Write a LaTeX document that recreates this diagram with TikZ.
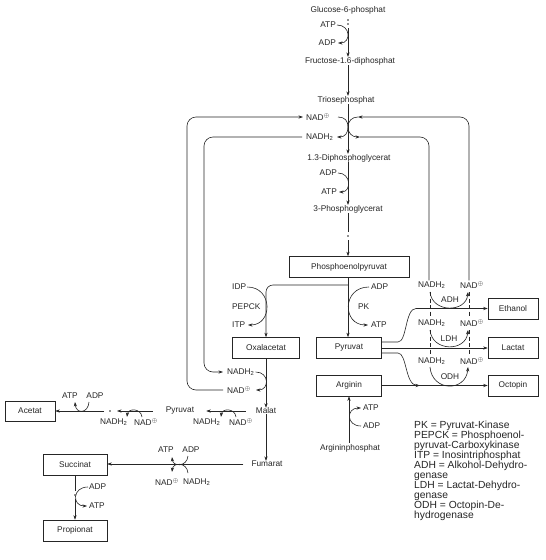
\documentclass[tikz,border=0pt]{standalone}
\usepackage{fontspec}
\setmainfont{Liberation Sans}
\usetikzlibrary{arrows.meta}
\definecolor{ink}{HTML}{262626}
\newcommand{\NADp}{NAD\textsuperscript{$\oplus$}}
\newcommand{\NADH}{NADH\textsubscript{2}}
\begin{document}
\begin{tikzpicture}[x=1pt,y=-1pt,
  lbl/.style={font=\fontsize{8.3}{9}\selectfont, inner sep=0pt, text=ink},
  box/.style={draw=ink, line width=0.6pt, font=\fontsize{8.3}{9}\selectfont, text=ink, inner sep=0pt, minimum height=21pt, minimum width=65pt},
  ln/.style={draw=ink, line width=0.6pt},
  arr/.style={ln, -{Stealth[length=4.5pt,width=3.2pt]}},
  dsh/.style={ln, dash pattern=on 4pt off 2.5pt},
  legend/.style={font=\fontsize{10.3}{10}\selectfont, text=ink, inner sep=0pt, anchor=base west}]
\useasboundingbox (0,0) rectangle (546,560);
\fill[white] (0,0) rectangle (546,560);
\coordinate (mx) at (348,0);
% ---------- labels on the main axis
\node[lbl] (glc) at (348,10) {Glucose-6-phosphat};
\node[lbl,anchor=east] (atp1) at (336,25) {ATP};
\node[lbl,anchor=east] (adp1) at (336,43) {ADP};
\node[lbl] (fru) at (350,61) {Fructose-1.6-diphosphat};
\node[lbl] (tri) at (346,100) {Triosephosphat};
\node[lbl,anchor=west] (nad1) at (306,117) {\NADp};
\node[lbl,anchor=west] (nadh1) at (306,137) {\NADH};
\node[lbl] (dpg) at (349,158) {1.3-Diphosphoglycerat};
\node[lbl,anchor=east] (adp2) at (337,173) {ADP};
\node[lbl,anchor=east] (atp2) at (337,192) {ATP};
\node[lbl] (pg3) at (348,209) {3-Phosphoglycerat};
\node[box, minimum width=120pt] (pep) at (349,267) {Phosphoenolpyruvat};
\node[lbl,anchor=west] (idp) at (232,287) {IDP};
\node[lbl,anchor=west] (pepck) at (232,307) {PEPCK};
\node[lbl,anchor=west] (itp) at (232,325) {ITP};
\node[lbl,anchor=west] (adp3) at (371,287) {ADP};
\node[lbl,anchor=west] (pk) at (358,307) {PK};
\node[lbl,anchor=west] (atp3) at (371,325) {ATP};
\node[box, minimum width=67pt] (oxa) at (266,348) {Oxalacetat};
\node[box] (pyr) at (349,348) {Pyruvat};
\node[box] (arg) at (349,385.5) {Arginin};
\node[lbl,anchor=west] (nadh2) at (227,372) {\NADH};
\node[lbl,anchor=west] (nad2) at (227,390) {\NADp};
\node[lbl] (mal) at (266,411) {Malat};
\node[lbl] (pyrl) at (180,411) {Pyruvat};
\node[lbl,anchor=west] (nadh3) at (193,422) {\NADH};
\node[lbl,anchor=west] (nad3) at (229,422) {\NADp};
\node[box, minimum width=50pt, minimum height=20pt] (ace) at (30,411) {Acetat};
\node[lbl] (atp4) at (70,396) {ATP};
\node[lbl] (adp4) at (95,396) {ADP};
\node[lbl,anchor=west] (nadh4) at (100,422) {\NADH};
\node[lbl,anchor=west] (nad4) at (134,422) {\NADp};
\node[box, minimum width=64pt] (suc) at (75,465) {Succinat};
\node[box, minimum width=64pt] (pro) at (75,530.5) {Propionat};
\node[lbl] (fum) at (267,464) {Fumarat};
\node[lbl] (atp5) at (166,450) {ATP};
\node[lbl] (adp5) at (191,450) {ADP};
\node[lbl,anchor=west] (nad5) at (155,482) {\NADp};
\node[lbl,anchor=west] (nadh5) at (183,482) {\NADH};
\node[lbl,anchor=west] (adp6) at (89,487) {ADP};
\node[lbl,anchor=west] (atp6) at (89,506) {ATP};
\node[lbl] (argp) at (350,448) {Argininphosphat};
\node[lbl,anchor=west] (atp7) at (363,408) {ATP};
\node[lbl,anchor=west] (adp7) at (363,426) {ADP};
% ---------- fermentation products
\node[lbl,anchor=west] (nadhA) at (418,285) {\NADH};
\node[lbl,anchor=west] (nadA) at (460,285) {\NADp};
\node[lbl] (adh) at (450,300) {ADH};
\node[lbl,anchor=west] (nadhL) at (418,323) {\NADH};
\node[lbl,anchor=west] (nadL) at (460,323) {\NADp};
\node[lbl] (ldh) at (449,339) {LDH};
\node[lbl,anchor=west] (nadhO) at (418,361) {\NADH};
\node[lbl,anchor=west] (nadO) at (460,361) {\NADp};
\node[lbl] (odh) at (450,377) {ODH};
\node[box, minimum width=50pt] (eth) at (513,308.5) {Ethanol};
\node[box, minimum width=50pt] (lac) at (513,347.5) {Lactat};
\node[box, minimum width=50pt] (oct) at (513,385.5) {Octopin};
% ---------- legend
\node[legend] (leg1) at (414,428.5) {PK = Pyruvat-Kinase};
\node[legend] (leg2) at (414,438.5) {PEPCK = Phosphoenol-};
\node[legend] (leg3) at (414,448.5) {pyruvat-Carboxykinase};
\node[legend] (leg4) at (414,458.5) {ITP = Inosintriphosphat};
\node[legend] (leg5) at (414,468.5) {ADH = Alkohol-Dehydro-};
\node[legend] (leg6) at (414,478.5) {genase};
\node[legend] (leg7) at (414,488.5) {LDH = Lactat-Dehydro-};
\node[legend] (leg8) at (414,498.5) {genase};
\node[legend] (leg9) at (414,508.5) {ODH = Octopin-De-};
\node[legend] (leg10) at (414,518.5) {hydrogenase};
% ---------- coordinates
\coordinate (g1) at (348,28);
\coordinate (p1) at (348,232);
\coordinate (p2) at (348,240);
\coordinate (br) at (348,285);
\coordinate (cx) at (348,127);
\coordinate (tl1) at (338,117);
\coordinate (tl2) at (337,137);
\coordinate (tR1) at (358,117);
\coordinate (tR2) at (360,137);
\coordinate (xLo) at (187,0);
\coordinate (xLi) at (204,0);
\coordinate (xRo) at (469,0);
\coordinate (xRi) at (429,0);
\coordinate (dA) at (110,411);
\coordinate (dA2) at (104,411);
\coordinate (s1) at (75,491);
\coordinate (s2) at (75,499);
\coordinate (e1) at (398,342);
\coordinate (e2) at (416,308.5);
\coordinate (o1) at (398,353);
\coordinate (o2) at (420,385.5);
% ---------- main axis
\fill[ink] (348,20) circle (0.8);
\fill[ink] (348,24) circle (0.8);
\draw[arr] (g1) -- (fru.north -| mx);
\draw[arr] (fru.south -| mx) -- (tri.north -| mx);
\draw[arr] (tri.south -| mx) -- (dpg.north -| mx);
\draw[arr] (dpg.south -| mx) -- (pg3.north -| mx);
\draw[ln] (pg3.south -| mx) -- (p1);
\fill[ink] (348,236) circle (0.8);
\draw[arr] (p2) -- (pep.north -| mx);
\draw[arr] (pep.south -| mx) -- (pyr.north -| mx);
\draw[arr, rounded corners=7pt] (br) -| (oxa.north);
\draw[arr] (oxa.south) -- (mal.north);
\draw[arr] (mal.south) -- (mal.south |- fum.north);
\draw[arr, shorten <=10pt, shorten >=12pt] (mal.west) -- (pyrl.east);
\draw[arr, shorten <=13pt] (pyrl.west) -- (117,411);
\fill[ink] (dA) circle (0.8);
\draw[arr] (dA2) -- (ace.east);
\draw[arr, shorten <=8pt] (fum.west) -- (fum.west -| suc.east);
\draw[ln] (suc.south) -- (s1);
\fill[ink] (75,495) circle (0.8);
\draw[arr] (s2) -- (pro.north);
\draw[arr, shorten <=1pt] (argp.north -| arg.south) -- (arg.south);
% ---------- side reactions (cofactor arcs)
\draw[arr] (atp1.east) ++(1,0) .. controls (351,25) and (351,43) .. (338,43);
\draw[arr] (tl1) .. controls (345,117) and (348,121) .. (cx) .. controls (348,133) and (345,137) .. (tl2);
\draw[arr] (tR1) .. controls (352,117) and (348,121) .. (cx) .. controls (348,133) and (352,137) .. (tR2);
\draw[arr] (adp2.east) ++(1,0) .. controls (351.5,173) and (351.5,192) .. (339,192);
\draw[arr] (idp.east) ++(1,0) .. controls (273,287) and (273,325) .. (248,325);
\draw[arr] (adp3.west) ++(-2,0) .. controls (342,287) and (342,325) .. (368,325);
\draw[arr] (nadh2.east) ++(1,0) .. controls (269.5,372) and (269.5,390) .. (256,390);
\draw[arr] (236,417) .. controls (235,408) and (222,408) .. (221,417);
\draw[arr] (142,417) .. controls (141,408) and (128,408) .. (127,417);
\draw[arr] (89,402) .. controls (88,414) and (76,414) .. (75,402);
\draw[arr] (188,456) .. controls (187,467) and (173,467) .. (172,457);
\draw[arr] (188,473) .. controls (187,462) and (173,462) .. (172,472);
\draw[arr] (88,487) .. controls (72,487) and (72,506) .. (87,506);
\draw[arr] (361,426) .. controls (346,426) and (346,408) .. (361,408);
% ---------- NAD loops
\draw[arr, rounded corners=9pt, shorten <=4pt, shorten >=3pt] (nad2.west) -- (nad2.west -| xLo) -- (xLo |- nad1.west) -- (nad1.west);
\draw[arr, rounded corners=9pt, shorten <=4pt, shorten >=4pt] (nadh1.west) -- (nadh1.west -| xLi) -- (xLi |- nadh2.west) -- (nadh2.west);
\draw[arr, rounded corners=9pt, shorten <=1pt] (nadA.north -| xRo) -- (xRo |- tR1) -- (tR1);
\draw[ln, rounded corners=9pt, shorten >=1pt] (tR2) -- (tR2 -| xRi) -- (xRi |- nadhA.north);
% ---------- products
\draw[arr] ([yshift=6pt]pyr.east) -- (e1) .. controls (407,342) and (405,308.5) .. (e2) -- (e2 -| eth.west);
\draw[arr] (pyr.east) -- (pyr.east -| lac.west);
\draw[arr] ([yshift=-5pt]pyr.east) -- (o1) .. controls (407,353) and (405,385.5) .. (o2);
\draw[arr] (arg.east) -- (arg.east -| oct.west);
\draw[dsh] (430,292) -- (430,317);
\draw[dsh] (430,330) -- (430,355);
\draw[dsh] (469,292) -- (469,317);
\draw[dsh] (469,330) -- (469,355);
\draw[arr] (430,292) .. controls (432,313) and (466,313) .. (468,292);
\draw[arr] (430,330) .. controls (432,352) and (466,352) .. (468,330);
\draw[arr] (430,367) .. controls (432,392) and (466,392) .. (468,367);
\end{tikzpicture}
\end{document}
